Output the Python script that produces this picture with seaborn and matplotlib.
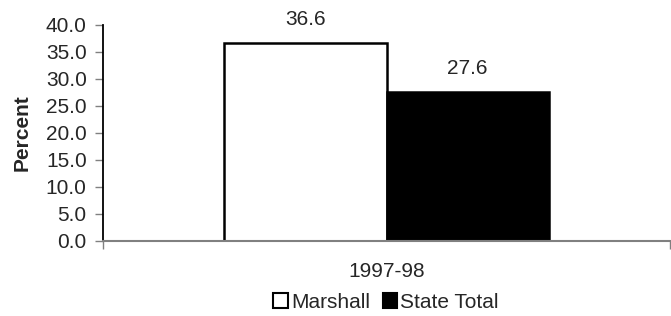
#!/usr/bin/env python3
import matplotlib

matplotlib.use("Agg")
import matplotlib.pyplot as plt
import pandas as pd
import seaborn as sns
from matplotlib.patches import Patch
from matplotlib.ticker import FormatStrFormatter, MultipleLocator

# --------------------------------------------
# DATA
# --------------------------------------------
PERIODS = ["1997-98"]
SERIES = ["Marshall", "State Total"]
VALUES = [36.6, 27.6]
COLORS = {"Marshall": "white", "State Total": "black"}

FONT = 15
GRAY = "#808080"


def main():
    sns.set_style("white")
    plt.rcParams["font.family"] = ["Liberation Sans", "DejaVu Sans"]

    df = pd.DataFrame(
        {
            "period": PERIODS * len(SERIES),
            "series": SERIES,
            "value": VALUES,
        }
    )

    fig = plt.figure(figsize=(6.71, 3.16), dpi=100)
    W, H = 671, 316
    ax = fig.add_axes([103.3 / W, 1 - 241 / H, (669.7 - 103.3) / W, (241 - 24.7) / H])

    sns.barplot(
        data=df,
        x="period",
        y="value",
        hue="series",
        palette=COLORS,
        hue_order=SERIES,
        width=0.573,
        edgecolor="black",
        linewidth=1.8,
        legend=False,
        ax=ax,
    )

    for cont in ax.containers:
        ax.bar_label(cont, fmt="%.1f", padding=10, fontsize=FONT)

    # axes styling
    ax.set_xlim(-0.5, 0.5)
    ax.set_ylim(0, 40)
    ax.yaxis.set_major_locator(MultipleLocator(5))
    ax.yaxis.set_major_formatter(FormatStrFormatter("%.1f"))
    ax.tick_params(
        axis="y", left=True, length=6, width=1, color=GRAY, labelsize=FONT, pad=6
    )
    ax.tick_params(axis="x", which="major", length=0, labelsize=FONT, pad=15)
    ax.set_xticks([-0.5, 0.5], minor=True)
    ax.tick_params(
        axis="x", which="minor", bottom=True, length=6, width=1, color=GRAY
    )

    sns.despine(ax=ax)
    ax.spines["left"].set_color("black")
    ax.spines["left"].set_linewidth(1.3)
    ax.spines["bottom"].set_color(GRAY)
    ax.spines["bottom"].set_linewidth(1.5)

    ax.set_xlabel("")
    ax.set_ylabel("Percent", fontsize=FONT, fontweight="bold")
    ax.yaxis.set_label_coords(-0.127, 0.5)

    handles = [
        Patch(facecolor=COLORS[s], edgecolor="black", linewidth=1.5, label=s)
        for s in SERIES
    ]
    fig.legend(
        handles=handles,
        loc="center",
        bbox_to_anchor=(386 / W, 1 - 302 / H),
        ncol=2,
        frameon=False,
        fontsize=FONT,
        handlelength=0.7,
        handleheight=0.7,
        handletextpad=0.15,
        columnspacing=0.6,
        borderaxespad=0,
    )

    fig.savefig("out.png", dpi=100)
    plt.close(fig)


if __name__ == "__main__":
    main()
